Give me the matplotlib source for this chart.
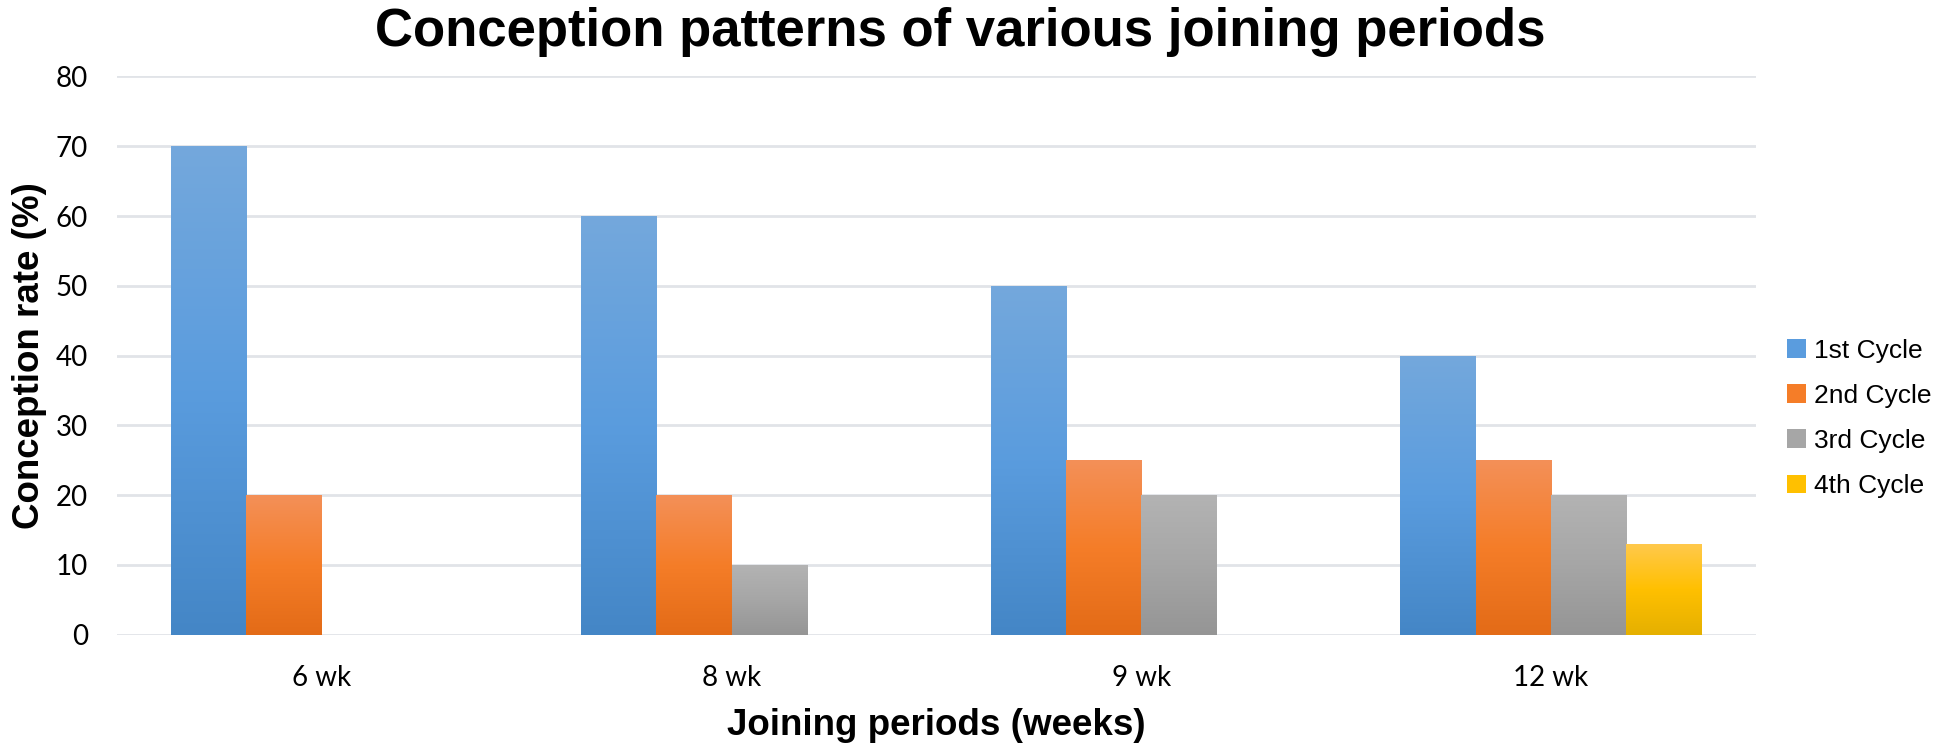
import numpy as np
import matplotlib.pyplot as plt
from matplotlib.colors import LinearSegmentedColormap
from matplotlib.patches import Patch

# joining periods and conception rate per oestrous cycle (%)
periods = ['6 wk', '8 wk', '9 wk', '12 wk']
cycle_1 = [70, 60, 50, 40]
cycle_2 = [20, 20, 25, 25]
cycle_3 = [0, 10, 20, 20]
cycle_4 = [0, 0, 0, 13]
series_names = ['1st Cycle', '2nd Cycle', '3rd Cycle', '4th Cycle']

# gradient stops (top, middle, bottom) for each series
shades = [
    ('#74a8dc', '#5a9cde', '#4486c6'),
    ('#f39058', '#f57d28', '#e36b17'),
    ('#b3b3b3', '#a6a6a6', '#959595'),
    ('#ffc94c', '#ffc000', '#e5b000'),
]

fig = plt.figure(figsize=(19.36, 7.47), dpi=100)
ax = fig.add_axes([0.0604, 0.1505, 0.8466, 0.7471])

x = np.arange(len(periods))
w = 0.184
grad = np.linspace(0, 1, 256).reshape(-1, 1)

for i, (vals, cols) in enumerate(zip([cycle_1, cycle_2, cycle_3, cycle_4], shades)):
    cmap = LinearSegmentedColormap.from_list(f'c{i}', [cols[2], cols[1], cols[0]])
    bars = ax.bar(x + (i - 1.5) * w, vals, width=w, color=cols[1], linewidth=0, zorder=2)
    for b in bars:
        h = b.get_height()
        if h <= 0:
            continue
        x0 = b.get_x()
        im = ax.imshow(grad, cmap=cmap, aspect='auto', origin='lower',
                       extent=(x0, x0 + w, 0, h), zorder=3)
        im.set_clip_path(b)

ax.set_xlim(-0.5, len(periods) - 0.5)
ax.set_ylim(0, 80)
ax.set_yticks(range(0, 81, 10))
ax.set_xticks(x)
ax.set_xticklabels(periods)
ax.grid(axis='y', color='#e1e4e8', linewidth=2, zorder=0)
ax.set_axisbelow(True)
for s in ax.spines.values():
    s.set_visible(False)
ax.tick_params(length=0)
ax.tick_params(axis='y', pad=21)
ax.tick_params(axis='x', pad=22)
for lab in ax.get_xticklabels() + ax.get_yticklabels():
    lab.set_fontfamily('Lato')
    lab.set_fontsize(20)
    lab.set_color('#000000')

ax.set_xlabel('Joining periods (weeks)', fontsize=26.5, fontweight='bold',
              family='Liberation Sans', labelpad=12)
ax.set_ylabel('Conception rate (%)', fontsize=26.5, fontweight='bold',
              family='Liberation Sans', labelpad=6)
fig.suptitle('Conception patterns of various joining periods', fontsize=38,
             fontweight='bold', family='Liberation Sans', x=0.496, y=0.99)

handles = [Patch(facecolor=c[1]) for c in shades]
fig.legend(handles, series_names, loc='center left', bbox_to_anchor=(0.911, 0.44),
           frameon=False, handlelength=0.7, handleheight=0.7,
           handletextpad=0.3, labelspacing=0.8,
           prop={'family': 'Liberation Sans', 'size': 19})

fig.savefig('out.png', dpi=100)
